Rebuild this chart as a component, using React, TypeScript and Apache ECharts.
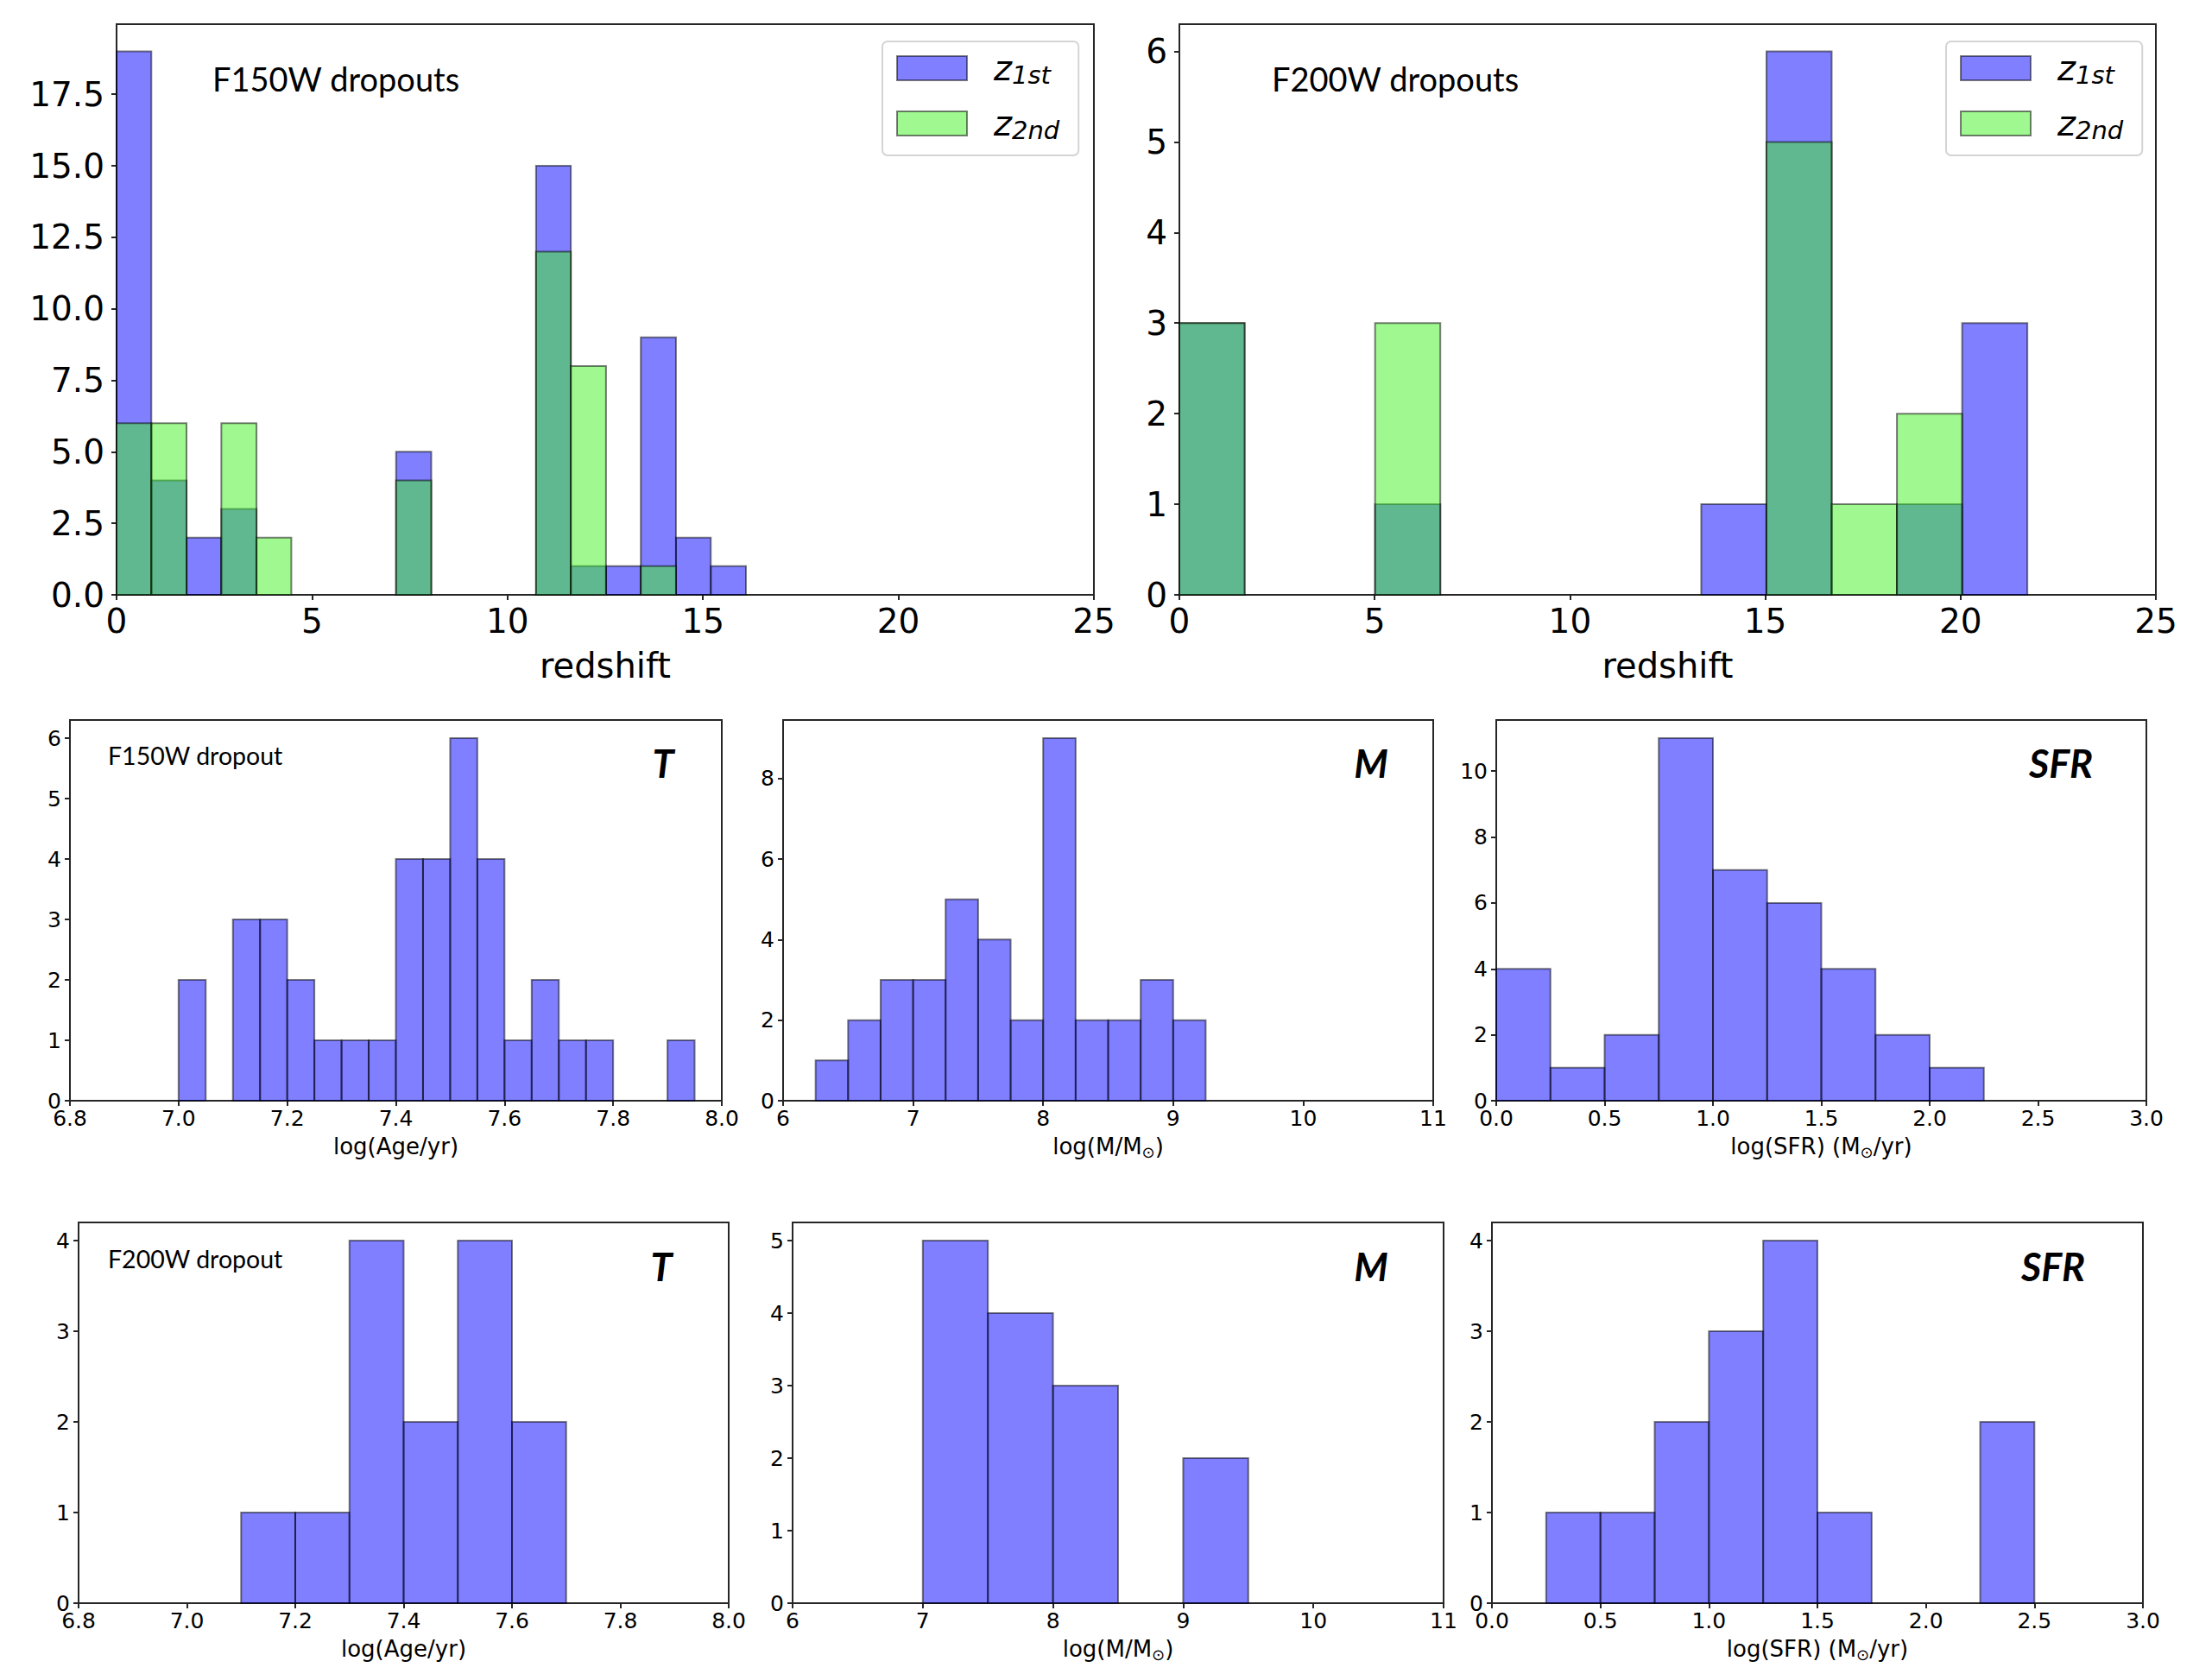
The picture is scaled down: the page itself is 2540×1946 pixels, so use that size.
import React, { useEffect, useRef } from "react";
import * as echarts from "echarts";

// ---------- data ----------
// Top-left: F150W dropouts, redshift histogram (bin edges and counts)
const f150zEdges = [0, 0.89, 1.79, 2.68, 3.58, 4.47, 5.37, 6.26, 7.15, 8.05, 8.94, 9.84, 10.73, 11.62, 12.52, 13.41, 14.31, 15.2, 16.1];
const f150zFirst = [19, 4, 2, 3, 0, 0, 0, 0, 5, 0, 0, 0, 15, 1, 1, 9, 2, 1];
const f150zSecond = [6, 6, 0, 6, 2, 0, 0, 0, 4, 0, 0, 0, 12, 8, 0, 1, 0, 0];

// Top-right: F200W dropouts
const f200zEdges = [0, 1.67, 3.34, 5.01, 6.68, 8.35, 10.02, 11.69, 13.36, 15.03, 16.7, 18.37, 20.04, 21.71];
const f200zFirst = [3, 0, 0, 1, 0, 0, 0, 0, 1, 6, 0, 1, 3];
const f200zSecond = [3, 0, 0, 3, 0, 0, 0, 0, 0, 5, 1, 2, 0];

// Middle row: F150W dropout properties
const f150AgeEdges = [7.0, 7.05, 7.1, 7.15, 7.2, 7.25, 7.3, 7.35, 7.4, 7.45, 7.5, 7.55, 7.6, 7.65, 7.7, 7.75, 7.8, 7.85, 7.9, 7.95];
const f150AgeCounts = [2, 0, 3, 3, 2, 1, 1, 1, 4, 4, 6, 4, 1, 2, 1, 1, 0, 0, 1];
const f150MassEdges = [6.25, 6.5, 6.75, 7.0, 7.25, 7.5, 7.75, 8.0, 8.25, 8.5, 8.75, 9.0, 9.25];
const f150MassCounts = [1, 2, 3, 3, 5, 4, 2, 9, 2, 2, 3, 2];
const f150SfrEdges = [0, 0.25, 0.5, 0.75, 1.0, 1.25, 1.5, 1.75, 2.0, 2.25];
const f150SfrCounts = [4, 1, 2, 11, 7, 6, 4, 2, 1];

// Bottom row: F200W dropout properties
const f200AgeEdges = [7.1, 7.2, 7.3, 7.4, 7.5, 7.6, 7.7];
const f200AgeCounts = [1, 1, 4, 2, 4, 2];
const f200MassEdges = [7.0, 7.5, 8.0, 8.5, 9.0, 9.5];
const f200MassCounts = [5, 4, 3, 0, 2];
const f200SfrEdges = [0.25, 0.5, 0.75, 1.0, 1.25, 1.5, 1.75, 2.0, 2.25, 2.5];
const f200SfrCounts = [1, 1, 2, 3, 4, 1, 0, 0, 2];

// tick settings [min, max, interval]
const redshiftTicks = [0, 25, 5];
const ageTicks = [6.8, 8.0, 0.2];
const massTicks = [6, 11, 1];
const sfrTicks = [0, 3, 0.5];

// ---------- styles ----------
const BLUE = "rgba(0,0,255,0.5)";
const GREEN = "rgba(65,241,33,0.5)";
const EDGE = "rgba(0,0,0,0.5)";
const AXIS = "#262626";
const TICK_FONT = "DejaVu Sans";
const NOTE_FONT = "Lato";

const toBars = (edges: number[], counts: number[]) =>
  counts
    .map((c, i) => [edges[i], edges[i + 1], c])
    .filter((d) => d[2] > 0);

const histSeries = (name: string, gi: number, edges: number[], counts: number[], color: string) => ({
  type: "custom",
  name,
  xAxisIndex: gi,
  yAxisIndex: gi,
  data: toBars(edges, counts),
  dimensions: ["x0", "x1", "count"],
  encode: { x: [0, 1], y: 2 },
  itemStyle: { color, borderColor: EDGE, borderWidth: 2 },
  renderItem: (_params: any, api: any) => {
    const x0 = api.value(0);
    const x1 = api.value(1);
    const y = api.value(2);
    const p0 = api.coord([x0, y]);
    const p1 = api.coord([x1, 0]);
    return {
      type: "rect",
      shape: { x: p0[0], y: p0[1], width: p1[0] - p0[0], height: p1[1] - p0[1] },
      style: { fill: color, stroke: EDGE, lineWidth: 2 },
    };
  },
});

const grids = [
  { left: 135, top: 28, width: 1132, height: 661 },
  { left: 1366, top: 28, width: 1131, height: 661 },
  { left: 81, top: 834, width: 755, height: 441 },
  { left: 907, top: 834, width: 753, height: 441 },
  { left: 1733, top: 834, width: 753, height: 441 },
  { left: 91, top: 1416, width: 753, height: 441 },
  { left: 918, top: 1416, width: 754, height: 441 },
  { left: 1728, top: 1416, width: 754, height: 441 },
];

const nameRich = {
  a: { fontFamily: TICK_FONT, fontSize: 26, lineHeight: 30, color: "#000", verticalAlign: "middle" },
  b: { fontFamily: TICK_FONT, fontSize: 18, lineHeight: 22, color: "#000", verticalAlign: "bottom" },
};

const mkX = (gi: number, ticks: number[], big: boolean, name: string, dec: number) => ({
  type: "value",
  gridIndex: gi,
  min: ticks[0],
  max: ticks[1],
  interval: ticks[2],
  name,
  nameLocation: "middle",
  nameGap: big ? 60 : 38,
  nameTextStyle: big
    ? { fontFamily: TICK_FONT, fontSize: 40, lineHeight: 44, color: "#000" }
    : { rich: nameRich },
  axisLine: { show: true, onZero: false, lineStyle: { color: AXIS, width: 2 } },
  axisTick: { show: true, length: 6, lineStyle: { color: AXIS, width: 2 } },
  axisLabel: {
    fontFamily: TICK_FONT,
    fontSize: big ? 39 : 25,
    color: "#000",
    margin: big ? 11 : 8,
    formatter: (v: number) => v.toFixed(dec),
  },
  splitLine: { show: false },
});

const mkY = (gi: number, max: number, interval: number, big: boolean, dec: number) => ({
  type: "value",
  gridIndex: gi,
  min: 0,
  max,
  interval,
  axisLine: { show: true, onZero: false, lineStyle: { color: AXIS, width: 2 } },
  axisTick: { show: true, length: 6, lineStyle: { color: AXIS, width: 2 } },
  axisLabel: {
    fontFamily: TICK_FONT,
    fontSize: big ? 39 : 25,
    color: "#000",
    margin: big ? 14 : 10,
    showMaxLabel: false,
    formatter: (v: number) => v.toFixed(dec),
  },
  splitLine: { show: false },
});

const legendCfg = (left: number, top: number) => ({
  show: true,
  orient: "vertical",
  left,
  top,
  padding: [11, 22, 15, 16],
  itemGap: 22,
  itemWidth: 81,
  itemHeight: 28,
  icon: "rect",
  selectedMode: false,
  backgroundColor: "#fff",
  borderColor: "#d4d4d4",
  borderWidth: 2,
  borderRadius: 6,
  data: [
    { name: "z1st", itemStyle: { color: BLUE, borderColor: EDGE, borderWidth: 2 } },
    { name: "z2nd", itemStyle: { color: GREEN, borderColor: EDGE, borderWidth: 2 } },
  ],
  formatter: (n: string) => (n === "z1st" ? "{z|z}{s|1st}" : "{z|z}{s|2nd}"),
  textStyle: {
    rich: {
      z: { fontFamily: TICK_FONT, fontStyle: "italic", fontSize: 40, lineHeight: 44, color: "#000", verticalAlign: "middle", padding: [0, 0, 0, 26] },
      s: { fontFamily: TICK_FONT, fontStyle: "italic", fontSize: 29, lineHeight: 32, color: "#000", verticalAlign: "bottom" },
    },
  },
});

const note = (text: string, x: number, y: number, size: number) => ({
  type: "text",
  x,
  y,
  style: { text, fontFamily: NOTE_FONT, fontSize: size, fill: "#000", align: "left", verticalAlign: "middle" },
});

const tag = (text: string, x: number, y: number) => ({
  type: "text",
  x,
  y,
  style: { text, fontFamily: NOTE_FONT, fontSize: 45, fontWeight: "bold", fontStyle: "italic", fill: "#000", align: "center", verticalAlign: "middle" },
});

export default function App() {
  const ref = useRef<HTMLDivElement>(null);
  useEffect(() => {
    if (!ref.current) return;
    const chart = echarts.init(ref.current, null, { renderer: "svg" });
    const option: any = {
      animation: false,
      backgroundColor: "#fff",
      grid: grids.map((g) => ({ ...g, show: true, borderColor: AXIS, borderWidth: 2, backgroundColor: "transparent" })),
      xAxis: [
        mkX(0, redshiftTicks, true, "redshift", 0),
        mkX(1, redshiftTicks, true, "redshift", 0),
        mkX(2, ageTicks, false, "{a|log(Age/yr)}", 1),
        mkX(3, massTicks, false, "{a|log(M/M}{b|⊙}{a|)}", 0),
        mkX(4, sfrTicks, false, "{a|log(SFR) (M}{b|⊙}{a|/yr)}", 1),
        mkX(5, ageTicks, false, "{a|log(Age/yr)}", 1),
        mkX(6, massTicks, false, "{a|log(M/M}{b|⊙}{a|)}", 0),
        mkX(7, sfrTicks, false, "{a|log(SFR) (M}{b|⊙}{a|/yr)}", 1),
      ],
      yAxis: [
        mkY(0, 19.95, 2.5, true, 1),
        mkY(1, 6.3, 1, true, 0),
        mkY(2, 6.3, 1, false, 0),
        mkY(3, 9.45, 2, false, 0),
        mkY(4, 11.55, 2, false, 0),
        mkY(5, 4.2, 1, false, 0),
        mkY(6, 5.25, 1, false, 0),
        mkY(7, 4.2, 1, false, 0),
      ],
      legend: [legendCfg(1022, 48), legendCfg(2254, 48)],
      series: [
        histSeries("z1st", 0, f150zEdges, f150zFirst, BLUE),
        histSeries("z2nd", 0, f150zEdges, f150zSecond, GREEN),
        histSeries("z1st", 1, f200zEdges, f200zFirst, BLUE),
        histSeries("z2nd", 1, f200zEdges, f200zSecond, GREEN),
        histSeries("age150", 2, f150AgeEdges, f150AgeCounts, BLUE),
        histSeries("mass150", 3, f150MassEdges, f150MassCounts, BLUE),
        histSeries("sfr150", 4, f150SfrEdges, f150SfrCounts, BLUE),
        histSeries("age200", 5, f200AgeEdges, f200AgeCounts, BLUE),
        histSeries("mass200", 6, f200MassEdges, f200MassCounts, BLUE),
        histSeries("sfr200", 7, f200SfrEdges, f200SfrCounts, BLUE),
      ],
      graphic: [
        note("F150W dropouts", 246, 91, 38),
        note("F200W dropouts", 1473, 91, 38),
        note("F150W dropout", 125, 875, 28.5),
        note("F200W dropout", 125, 1458, 28.5),
        tag("T", 768, 884),
        tag("M", 1588, 884),
        tag("SFR", 2387, 884),
        tag("T", 766, 1467),
        tag("M", 1588, 1467),
        tag("SFR", 2378, 1467),
      ],
    };
    chart.setOption(option);
    return () => chart.dispose();
  }, []);
  return (
    <div
      ref={ref}
      style={{ position: "absolute", left: 0, top: 0, width: 2540, height: 1946, background: "#fff" }}
    />
  );
}
